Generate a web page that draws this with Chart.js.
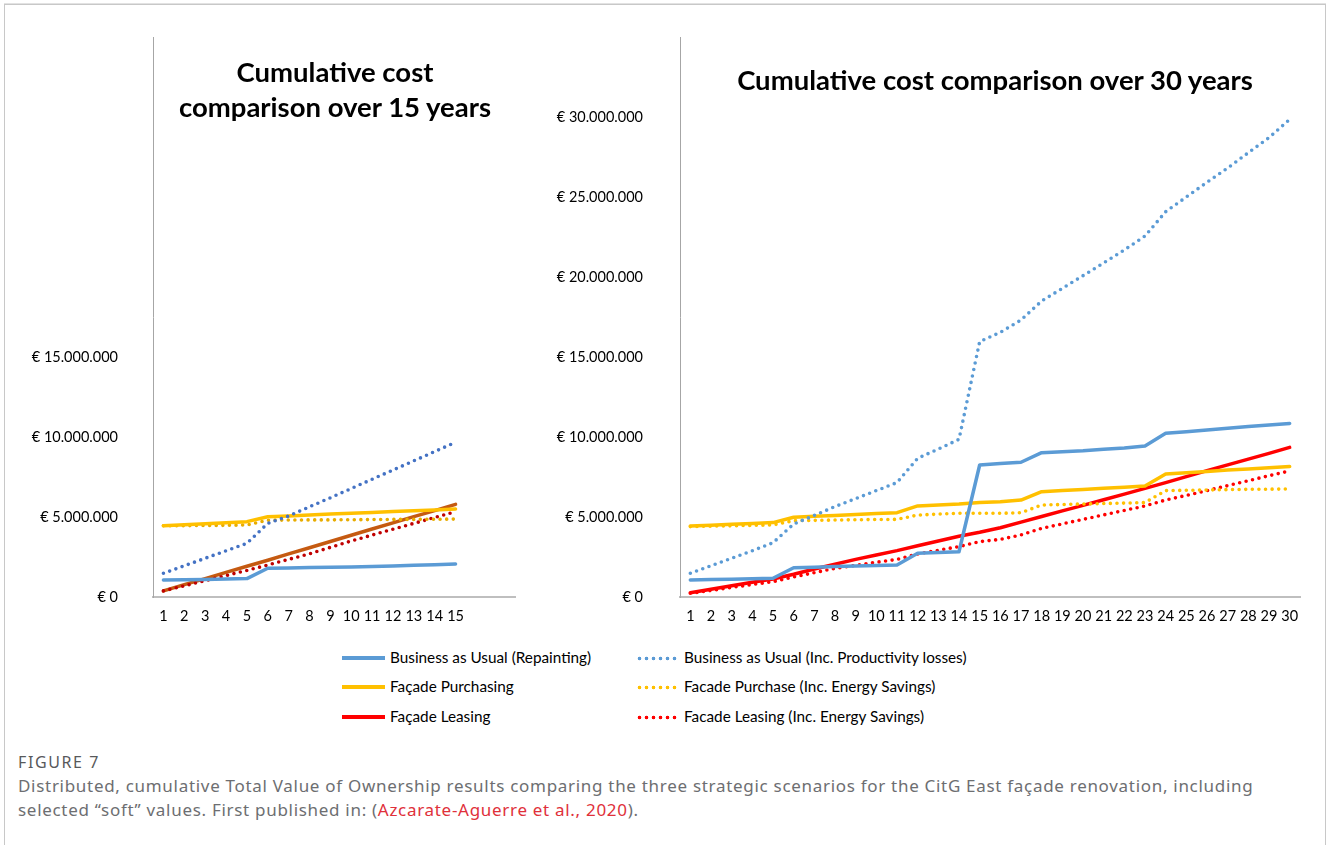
<!DOCTYPE html>
<html>
<head>
<meta charset="utf-8">
<script src="https://cdn.jsdelivr.net/npm/chart.js@4.4.1/dist/chart.umd.min.js"></script>
<style>
  html, body { margin: 0; padding: 0; background: #fff; }
  body { width: 1328px; height: 845px; position: relative; overflow: hidden; font-family: Lato, "Open Sans", sans-serif; }
  .frame { position: absolute; left: 4px; top: 4px; width: 1320px; height: 860px; border: 1px solid #c8c8c8; box-shadow: 0 -1px 0 #e2e2e2; }
  canvas { position: absolute; }
  .title { position: absolute; font-weight: bold; font-size: 27.5px; color: #000; text-align: center; line-height: 35px; }
  .leg { position: absolute; font-size: 15.3px; color: #000; white-space: nowrap; height: 18px; line-height: 18px; }
  .sw { display: inline-block; width: 43px; height: 4px; vertical-align: middle; margin-right: 5px; position: relative; top: -1px; }
  .dots { height: 5px; background-repeat: repeat-x; background-size: 7px 5px; }
  .cap-h { position: absolute; left: 18px; top: 751px; font-family: "Noto Sans", sans-serif; font-size: 16px; color: #58595b; letter-spacing: 1.6px; }
  .cap { position: absolute; left: 18px; top: 774px; font-family: "Noto Sans", sans-serif; font-size: 17px; color: #6d6e71; line-height: 24px; white-space: nowrap; letter-spacing: 0.7px; }
  .cap a { color: #e0303a; text-decoration: none; }
</style>
</head>
<body>
<div class="frame"></div>

<canvas id="left15" width="540" height="640" style="left:0;top:0;width:540px;height:640px"></canvas>
<canvas id="right30" width="788" height="640" style="left:540px;top:0;width:788px;height:640px"></canvas>

<div class="title" style="left:135px;top:54px;width:400px">Cumulative cost<br>comparison over 15 years</div>
<div class="title" style="left:690px;top:62px;width:610px">Cumulative cost comparison over 30 years</div>

<div class="leg" style="left:342px;top:648px"><span class="sw" style="background:#5b9bd5"></span>Business as Usual (Repainting)</div>
<div class="leg" style="left:342px;top:677px"><span class="sw" style="background:#ffc000"></span>Façade Purchasing</div>
<div class="leg" style="left:342px;top:707px"><span class="sw" style="background:#ff0000"></span>Façade Leasing</div>
<div class="leg" style="left:636px;top:648px"><span class="sw dots" style="background-image:radial-gradient(circle, #5b9bd5 1.6px, transparent 2.1px)"></span>Business as Usual (Inc. Productivity losses)</div>
<div class="leg" style="left:636px;top:677px"><span class="sw dots" style="background-image:radial-gradient(circle, #ffc000 1.6px, transparent 2.1px)"></span>Facade Purchase (Inc. Energy Savings)</div>
<div class="leg" style="left:636px;top:707px"><span class="sw dots" style="background-image:radial-gradient(circle, #ff0000 1.6px, transparent 2.1px)"></span>Facade Leasing (Inc. Energy Savings)</div>

<div class="cap-h">FIGURE 7</div>
<div class="cap">Distributed, cumulative Total Value of Ownership results comparing the three strategic scenarios for the CitG East façade renovation, including<br>selected “soft” values. First published in: (<a>Azcarate-Aguerre et al., 2020</a>).</div>

<script>
// years on the x axis
var years15 = [1, 2, 3, 4, 5, 6, 7, 8, 9, 10, 11, 12, 13, 14, 15];
var years30 = [1, 2, 3, 4, 5, 6, 7, 8, 9, 10, 11, 12, 13, 14, 15, 16, 17, 18, 19, 20, 21, 22, 23, 24, 25, 26, 27, 28, 29, 30];

// y tick values (€)
var yTicks = [0, 5000000, 10000000, 15000000, 20000000, 25000000, 30000000, 35000000];

// 15-year chart, values in million €
var bau15 =         [1.06, 1.08, 1.10, 1.13, 1.15, 1.80, 1.82, 1.84, 1.86, 1.88, 1.90, 1.94, 1.98, 2.02, 2.06];
var bauProd15 =     [1.48, 1.95, 2.42, 2.89, 3.35, 4.60, 5.06, 5.64, 6.20, 6.78, 7.36, 7.93, 8.51, 9.09, 9.67];
var purchase15 =    [4.46, 4.52, 4.58, 4.64, 4.71, 5.02, 5.07, 5.12, 5.18, 5.23, 5.28, 5.34, 5.39, 5.44, 5.50];
var purchaseES15 =  [4.45, 4.46, 4.47, 4.48, 4.50, 4.80, 4.81, 4.82, 4.82, 4.83, 4.84, 4.85, 4.85, 4.86, 4.87];
var leasing15 =     [0.38, 0.77, 1.15, 1.54, 1.92, 2.30, 2.70, 3.08, 3.47, 3.86, 4.25, 4.63, 5.02, 5.40, 5.79];
var leasingES15 =   [0.38, 0.70, 1.02, 1.34, 1.66, 2.00, 2.35, 2.70, 3.10, 3.50, 3.87, 4.24, 4.60, 4.97, 5.33];

// 30-year chart, values in million €
var bau30 =        [1.06, 1.09, 1.11, 1.14, 1.17, 1.83, 1.86, 1.90, 1.93, 1.97, 2.00, 2.73, 2.78, 2.83, 8.25,
                    8.35, 8.42, 9.02, 9.08, 9.14, 9.23, 9.31, 9.44, 10.23, 10.33, 10.44, 10.54, 10.65, 10.75, 10.85];
var bauProd30 =    [1.48, 1.95, 2.42, 2.89, 3.39, 4.56, 5.10, 5.65, 6.15, 6.65, 7.15, 8.67, 9.25, 9.85, 15.96,
                    16.54, 17.31, 18.50, 19.29, 20.08, 20.88, 21.69, 22.56, 24.08, 25.00, 25.92, 26.81, 27.77, 28.71, 29.85];
var purchase30 =   [4.44, 4.49, 4.55, 4.60, 4.65, 4.98, 5.04, 5.10, 5.16, 5.22, 5.27, 5.69, 5.75, 5.81, 5.90,
                    5.96, 6.06, 6.58, 6.65, 6.72, 6.79, 6.86, 6.94, 7.69, 7.77, 7.85, 7.93, 8.00, 8.08, 8.15];
var purchaseES30 = [4.40, 4.43, 4.45, 4.48, 4.50, 4.77, 4.79, 4.81, 4.83, 4.84, 4.85, 5.12, 5.18, 5.23, 5.23,
                    5.23, 5.27, 5.75, 5.78, 5.81, 5.84, 5.87, 5.90, 6.65, 6.67, 6.69, 6.71, 6.73, 6.74, 6.75];
var leasing30 =    [0.27, 0.48, 0.70, 0.92, 1.13, 1.42, 1.75, 2.05, 2.35, 2.63, 2.90, 3.20, 3.50, 3.80, 4.05,
                    4.33, 4.68, 5.03, 5.38, 5.73, 6.08, 6.43, 6.79, 7.15, 7.52, 7.90, 8.26, 8.62, 8.98, 9.35];
var leasingES30 =  [0.23, 0.41, 0.60, 0.78, 0.96, 1.25, 1.52, 1.79, 1.98, 2.17, 2.35, 2.69, 2.92, 3.15, 3.46,
                    3.60, 3.88, 4.29, 4.57, 4.85, 5.13, 5.41, 5.69, 6.06, 6.35, 6.65, 6.96, 7.27, 7.58, 7.88];

function pts(xs, ys) {
  return xs.map(function (x, i) { return { x: x, y: ys[i] * 1000000 }; });
}

function euro(v) {
  return '€ ' + Math.round(v).toLocaleString('de-DE');
}

function solid(label, color, xs, ys) {
  return { label: label, data: pts(xs, ys), borderColor: color, backgroundColor: color,
           borderWidth: 3.5, pointRadius: 0, tension: 0, borderCapStyle: 'round', borderJoinStyle: 'round' };
}

function dotted(label, color, xs, ys) {
  return { label: label, data: pts(xs, ys), borderColor: color, backgroundColor: color,
           borderWidth: 3.6, borderDash: [0, 6.6], borderCapStyle: 'round', pointRadius: 0, tension: 0 };
}

// labelGap pushes the € labels away from the axis (via an invisible tick mark,
// since ticks.padding would also add space above/below the plot)
function makeChart(id, xs, xMax, yAxisWidth, padRight, labelGap, maxLabel, datasets) {
  new Chart(document.getElementById(id).getContext('2d'), {
    type: 'line',
    data: { datasets: datasets },
    options: {
      responsive: false,
      animation: false,
      layout: { padding: { top: 37, right: padRight, bottom: 0, left: 0 } },
      plugins: { legend: { display: false }, tooltip: { enabled: false } },
      scales: {
        x: {
          type: 'linear',
          min: 0.5,
          max: xMax,
          afterFit: function (s) { s.height = 43; },
          afterBuildTicks: function (s) { s.ticks = xs.map(function (v) { return { value: v }; }); },
          grid: { display: false, drawTicks: false },
          border: { color: '#bfbfbf', width: 2 },
          ticks: { padding: 11, color: '#000', autoSkip: false, maxRotation: 0,
                   font: { family: 'Lato', size: 14.5 },
                   callback: function (v) { return String(v); } }
        },
        y: {
          min: 0,
          max: 35000000,
          afterFit: function (s) { s.width = yAxisWidth; },
          afterBuildTicks: function (s) { s.ticks = yTicks.map(function (v) { return { value: v }; }); },
          grid: { display: false, drawTicks: true, tickLength: labelGap, tickColor: 'rgba(0,0,0,0)' },
          border: { color: '#a6a6a6', width: 1 },
          ticks: { padding: 0, color: '#000', font: { family: 'Lato', size: 14.5 },
                   callback: function (v) { return v > maxLabel ? '' : euro(v); } }
        }
      }
    }
  });
}

makeChart('left15', years15, 17.85, 153, 25, 35, 15000000, [
  solid('Business as Usual (Repainting)', '#5b9bd5', years15, bau15),
  dotted('Business as Usual (Inc. Productivity losses)', '#4472c4', years15, bauProd15),
  solid('Façade Purchasing', '#ffc000', years15, purchase15),
  dotted('Facade Purchase (Inc. Energy Savings)', '#e8ac00', years15, purchaseES15),
  dotted('Facade Leasing (Inc. Energy Savings)', '#c00000', years15, leasingES15),
  solid('Façade Leasing', '#c55a11', years15, leasing15)
]);

makeChart('right30', years30, 30.5, 140, 28, 37, 30000000, [
  solid('Business as Usual (Repainting)', '#5b9bd5', years30, bau30),
  dotted('Business as Usual (Inc. Productivity losses)', '#5b9bd5', years30, bauProd30),
  solid('Façade Purchasing', '#ffc000', years30, purchase30),
  dotted('Facade Purchase (Inc. Energy Savings)', '#ffc000', years30, purchaseES30),
  dotted('Facade Leasing (Inc. Energy Savings)', '#ff0000', years30, leasingES30),
  solid('Façade Leasing', '#ff0000', years30, leasing30)
]);
</script>
</body>
</html>
